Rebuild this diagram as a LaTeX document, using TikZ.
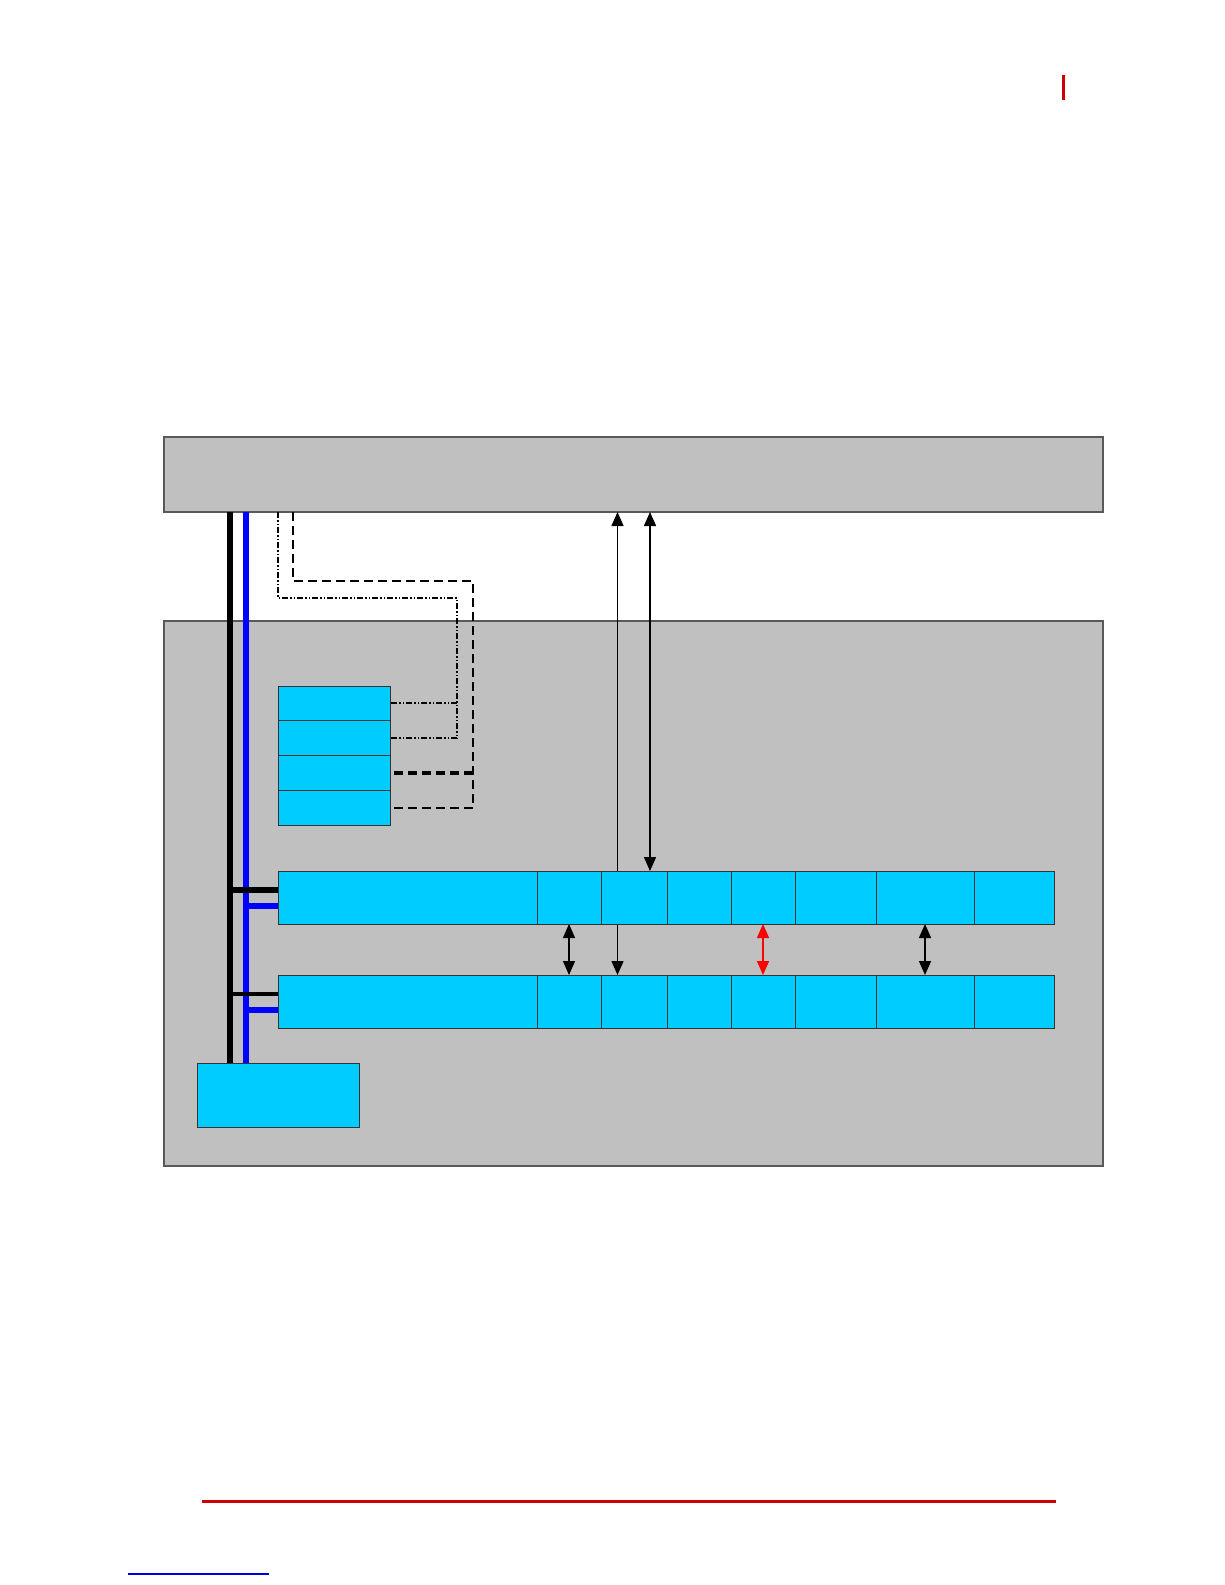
\documentclass[tikz,border=0pt]{standalone}
\usetikzlibrary{arrows.meta,positioning}
\definecolor{panelgray}{RGB}{192,192,192}
\definecolor{cellcyan}{RGB}{0,204,255}
\definecolor{pagered}{RGB}{204,0,0}
\pgfdeclarelayer{back}
\pgfdeclarelayer{wires}
\pgfsetlayers{back,wires,main}

\begin{document}
\begin{tikzpicture}[
  x=1pt,y=-1pt,
  node distance=0pt,
  panel/.style={rectangle,draw=black!65,line width=1.2pt,fill=panelgray,
    anchor=north west,inner sep=0pt,outer sep=0pt},
  cell/.style={rectangle,draw=black!80,line width=0.9pt,fill=cellcyan,
    inner sep=0pt,outer sep=0pt,minimum height=53pt},
  slot/.style={cell,minimum width=112pt,minimum height=34.75pt},
  kbus/.style={line width=6pt,black},
  bbus/.style={line width=6pt,blue},
  arr/.style={{Triangle[length=14pt,width=12pt]}-{Triangle[length=14pt,width=12pt]},line width=1.4pt},
  ddot/.style={line width=2pt,dash pattern=on 6pt off 2pt on 1.5pt off 2pt on 1.5pt off 2pt},
  dsh/.style={line width=2pt,dash pattern=on 9pt off 5pt}
]
\useasboundingbox (0,0) rectangle (1225,1585);

\begin{pgfonlayer}{back}
\fill[white] (0,0) rectangle (1225,1585);
\node[panel,minimum width=939pt,minimum height=75pt] (host) at (164,437) {};
\node[panel,minimum width=939pt,minimum height=545pt] (board) at (164,621) {};
\end{pgfonlayer}

% page marks
\draw[pagered,line width=3pt] (1063,75) -- (1063,100);
\draw[pagered,line width=3pt] (202,1501) -- (1056,1501);
\draw[blue!85!black,line width=1.5pt] (128,1574) -- (269,1574);

% stacked slots
\node[slot,anchor=north west] (q1) at (278,686) {};
\node[slot,below=of q1] (q2) {};
\node[slot,below=of q2] (q3) {};
\node[slot,below=of q3] (q4) {};

% upper row
\node[cell,anchor=north west,minimum width=259pt] (a0) at (278,871) {};
\node[cell,minimum width=64pt,right=of a0] (a1) {};
\node[cell,minimum width=66pt,right=of a1] (a2) {};
\node[cell,minimum width=64pt,right=of a2] (a3) {};
\node[cell,minimum width=64pt,right=of a3] (a4) {};
\node[cell,minimum width=81pt,right=of a4] (a5) {};
\node[cell,minimum width=98pt,right=of a5] (a6) {};
\node[cell,minimum width=80pt,right=of a6] (a7) {};

% lower row
\node[cell,minimum width=259pt,below=51pt of a0] (b0) {};
\node[cell,minimum width=64pt,right=of b0] (b1) {};
\node[cell,minimum width=66pt,right=of b1] (b2) {};
\node[cell,minimum width=64pt,right=of b2] (b3) {};
\node[cell,minimum width=64pt,right=of b3] (b4) {};
\node[cell,minimum width=81pt,right=of b4] (b5) {};
\node[cell,minimum width=98pt,right=of b5] (b6) {};
\node[cell,minimum width=80pt,right=of b6] (b7) {};

\node[cell,anchor=north west,minimum width=162pt,minimum height=64pt] (cpu) at (197,1063) {};

\coordinate (kx) at (230,0);
\coordinate (bx) at (246,0);
\coordinate (dd) at (278,0);
\coordinate (ddc) at (457,598);
\coordinate (ds) at (293,0);
\coordinate (dsc) at (473,581);
\coordinate (ux) at (617.5,0);
\coordinate (vx) at (650,0);

\begin{pgfonlayer}{wires}
% buses
\draw[kbus] (host.south -| kx) -- (cpu.north -| kx);
\draw[bbus] (host.south -| bx) -- (cpu.north -| bx);
\draw[kbus] ([yshift=8pt]a0.west) -- ++(-48,0);
\draw[bbus] ([yshift=-8.5pt]a0.west) -- ++(-32,0);
\draw[kbus,line width=4.5pt] ([yshift=7.5pt]b0.west) -- ++(-48,0);
\draw[bbus] ([yshift=-8.5pt]b0.west) -- ++(-32,0);

% slot links
\draw[ddot] (host.south -| dd) |- (ddc) -- (ddc |- q2.east) -- (q2.east);
\draw[ddot] (ddc |- q1.east) -- (q1.east);
\draw[dsh] (host.south -| ds) |- (dsc) -- (dsc |- q4.east) -- (q4.east);
\draw[dsh,line width=3.5pt] (dsc |- q3.east) -- (q3.east);

% arrows
\draw[arr] (host.south -| ux) -- (b2.north -| ux);
\draw[arr] (host.south -| vx) -- (a2.north -| vx);
\draw[arr] (a1.south) -- (b1.north);
\draw[arr,red] (a4.south) -- (b4.north);
\draw[arr] (a6.south) -- (b6.north);
\end{pgfonlayer}
\end{tikzpicture}
\end{document}
